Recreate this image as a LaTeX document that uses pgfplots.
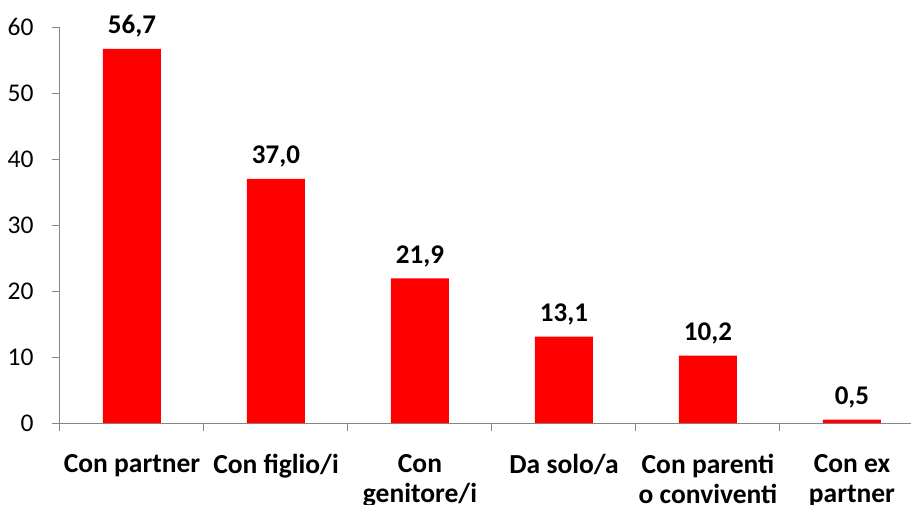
\documentclass[border=0pt]{standalone}
\usepackage{pgfplots}
\pgfplotsset{compat=1.18}
\usepackage{fontspec}
\setmainfont{Carlito}
\definecolor{axgray}{HTML}{868686}
\begin{document}
\begin{tikzpicture}
\begin{axis}[
  name=ax,
  width=851pt, height=396pt, scale only axis,
  xmin=-0.5, xmax=5.41, ymin=0, ymax=60,
  axis lines=left, axis line style={-, axgray, line width=1pt},
  ytick={0,10,...,60},
  xtick={0,...,5},
  minor xtick={-0.5,0.5,...,4.5},
  major x tick style={draw=none},
  minor x tick style={axgray, line width=1pt},
  y tick style={axgray, line width=1pt},
  tick align=outside,
  major tick length=8pt, minor tick length=8pt,
  /pgf/number format/assume math mode=true,
  yticklabel style={font=\fontsize{25.5}{30}\selectfont, xshift=-15pt},
  xticklabels={Con partner, Con figlio/i, {Con\\genitore/i}, Da solo/a, {Con parenti\\o conviventi}, {Con ex\\partner}},
  xticklabel style={font=\fontsize{27.5}{29.5}\selectfont\bfseries, align=center, yshift=-20pt},
  ybar, bar width=58pt, bar shift=0pt,
  nodes near coords,
  point meta=explicit symbolic,
  every node near coord/.append style={font=\fontsize{27}{30}\selectfont\bfseries, black, yshift=8pt},
  clip=false,
]
\addplot[fill=red, draw=none] table[meta=lab] {
x y lab
0 56.7 56,7
1 37.0 37,0
2 21.9 21,9
3 13.1 13,1
4 10.2 10,2
5 0.5 0,5
};
\coordinate (O) at (axis cs:-0.5,0);
\end{axis}
\pgfresetboundingbox
\path[use as bounding box] ([shift={(-60pt,-81pt)}]O) rectangle ([shift={(851pt,423pt)}]O);
\end{tikzpicture}
\end{document}
